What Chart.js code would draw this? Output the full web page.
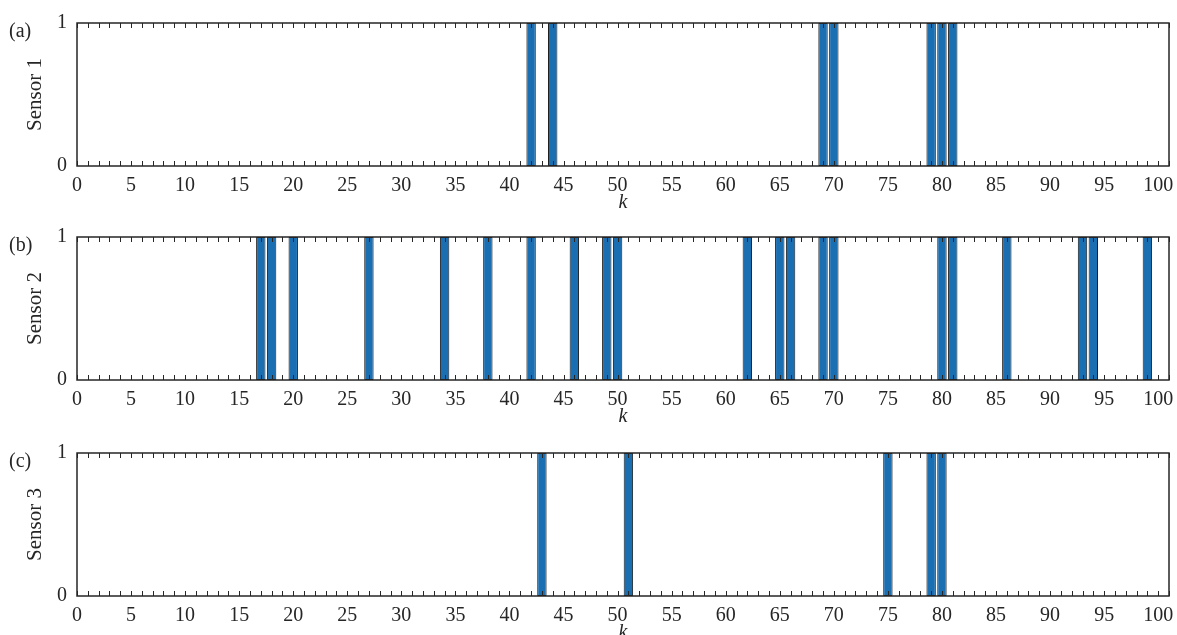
<!DOCTYPE html>
<html><head><meta charset="utf-8">
<script src="https://cdn.jsdelivr.net/npm/chart.js@4.4.0/dist/chart.umd.min.js"></script>
<style>
html,body{margin:0;padding:0;background:#fff;overflow:hidden;width:1177px;height:635px}
canvas{position:absolute;left:0}
</style></head><body>
<canvas id="c1" width="1177" height="215" style="top:0px"></canvas>
<canvas id="c2" width="1177" height="215" style="top:214px"></canvas>
<canvas id="c3" width="1177" height="215" style="top:430px"></canvas>
<script>
// ---- data ----
const kMin = 0;
const kMax = 101;
const xTickLabels = [0,5,10,15,20,25,30,35,40,45,50,55,60,65,70,75,80,85,90,95,100];
const yTickLabels = [0,1];
const sensorNames = ['Sensor 1','Sensor 2','Sensor 3'];
const panelTags = ['(a)','(b)','(c)'];
const sensor1Active = [42,44,69,70,79,80,81];
const sensor2Active = [17,18,20,27,34,38,42,46,49,50,62,65,66,69,70,80,81,86,93,94,99];
const sensor3Active = [43,51,75,79,80];

const FONT = 'Liberation Serif';
const INK = '#262626';

const framePlugin = {
  id: 'frame',
  afterDatasetsDraw(chart, args, opts) {
    const {ctx, chartArea: a, scales: {x}} = chart;
    ctx.save();
    ctx.strokeStyle = INK; ctx.lineWidth = 1;
    ctx.beginPath();
    x.ticks.forEach(t => {
      const px = Math.round(x.getPixelForValue(t.value)) + 0.5;
      ctx.moveTo(px, a.top); ctx.lineTo(px, a.top + 5);
      ctx.moveTo(px, a.bottom); ctx.lineTo(px, a.bottom - 5);
    });
    ctx.stroke();
    ctx.lineWidth = 1.5;
    ctx.strokeRect(a.left, a.top, a.right - a.left, a.bottom - a.top);
    ctx.fillStyle = INK;
    ctx.font = '20px "' + FONT + '"';
    ctx.textBaseline = 'middle'; ctx.textAlign = 'left';
    ctx.fillText(opts.tag, 9, 32);
    ctx.restore();
  }
};

function makeChart(id, active, name, tag) {
  const data = active.map(k => ({x: k, y: 1}));
  return new Chart(document.getElementById(id), {
    type: 'bar',
    data: {datasets: [{
      data,
      backgroundColor: '#1a6eb2',
      borderColor: '#1c1c1c',
      borderWidth: 1,
      borderSkipped: false,
      categoryPercentage: 1,
      barPercentage: 0.87
    }]},
    options: {
      responsive: false,
      animation: false,
      devicePixelRatio: 1,
      layout: {padding: {top: 23, right: 7, left: 0, bottom: 0}},
      plugins: {legend: {display: false}, tooltip: {enabled: false}, frame: {tag}},
      scales: {
        x: {
          type: 'linear', min: kMin, max: kMax, offset: false,
          grid: {display: false, drawTicks: false}, border: {display: false},
          ticks: {
            stepSize: 1, autoSkip: false, maxRotation: 0, minRotation: 0, padding: 8,
            color: INK, font: {family: FONT, size: 20},
            callback: v => xTickLabels.includes(v) ? String(v) : ''
          },
          afterFit: s => { s.height = 49; },
          title: {display: true, text: 'k', color: INK,
            font: {family: FONT, size: 20, style: 'italic'}, padding: {top: 0, bottom: 0}}
        },
        y: {
          min: 0, max: 1,
          grid: {display: false, drawTicks: false}, border: {display: false},
          ticks: {
            stepSize: 1, padding: 10, color: INK, font: {family: FONT, size: 20},
            callback: v => yTickLabels.includes(v) ? String(v) : ''
          },
          afterFit: s => { s.width = 77; },
          title: {display: true, text: name, color: INK,
            font: {family: FONT, size: 21}, padding: {top: 23, bottom: 0}}
        }
      }
    },
    plugins: [framePlugin]
  });
}

makeChart('c1', sensor1Active, sensorNames[0], panelTags[0]);
makeChart('c2', sensor2Active, sensorNames[1], panelTags[1]);
makeChart('c3', sensor3Active, sensorNames[2], panelTags[2]);
</script>
</body></html>
